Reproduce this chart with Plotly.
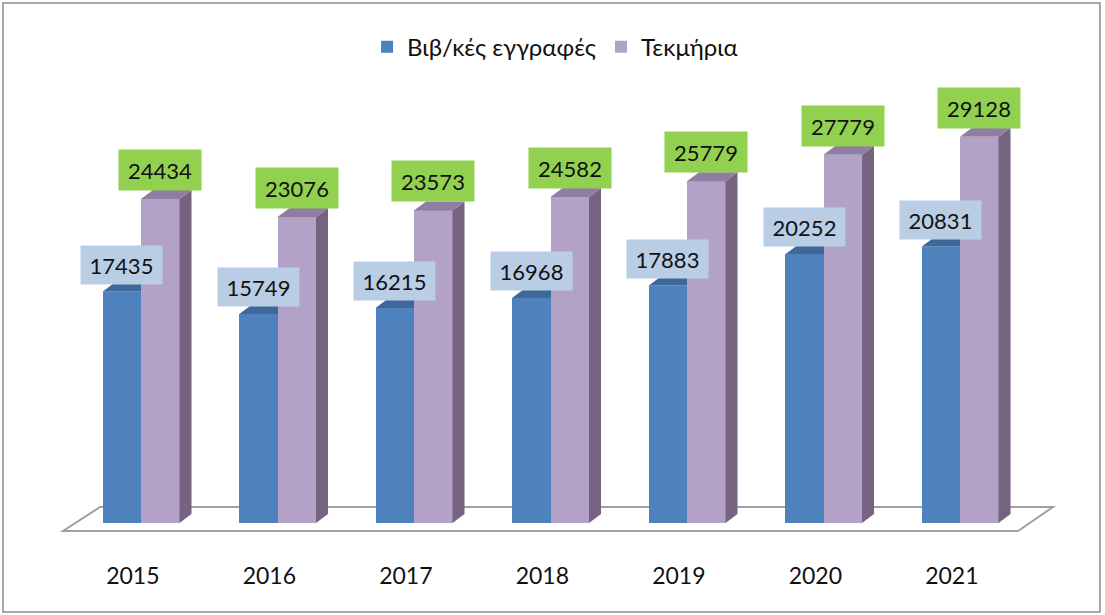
import plotly.graph_objects as go

years = ["2015", "2016", "2017", "2018", "2019", "2020", "2021"]
records = [17435, 15749, 16215, 16968, 17883, 20252, 20831]
items = [24434, 23076, 23573, 24582, 25779, 27779, 29128]
names = ["Βιβ/κές εγγραφές", "Τεκμήρια"]

BLUE, BLUE_TOP = "#4f81bd", "#3d6899"
PURP, PURP_TOP, PURP_SIDE = "#b3a2c7", "#8f7da2", "#76647f"
FONT = "Lato, 'Open Sans', sans-serif"

idx = list(range(len(years)))
W = 0.282          # bar width in category units
DX = 12 / 136.5    # depth offset (x, category units)
DY = 9 / 0.01326   # depth offset (y, value units)

fig = go.Figure()
fig.add_trace(go.Bar(x=idx, y=records, width=W, offset=-W, name=names[0],
                     marker=dict(color=BLUE, line=dict(width=0))))
fig.add_trace(go.Bar(x=idx, y=items, width=W, offset=0, name=names[1],
                     marker=dict(color=PURP, line=dict(width=0))))

shapes = []
# floor
fx0, fx1, bx0, bx1 = -0.571, 6.425, -0.300, 6.681
fy, by = -603, 1207
shapes.append(dict(type="path", xref="x", yref="y", layer="below",
                   path=f"M {fx0},{fy} L {fx1},{fy} L {bx1},{by} L {bx0},{by} Z",
                   fillcolor="white", line=dict(color="#a0a0a0", width=2)))

def poly(pts):
    return "M " + " L ".join(f"{x},{y}" for x, y in pts) + " Z"

for i, v in zip(idx, records):
    shapes.append(dict(type="path", xref="x", yref="y", layer="below",
                       path=poly([(i - W, v), (i - W + DX, v + DY), (i + DX, v + DY), (i, v)]),
                       fillcolor=BLUE_TOP, line=dict(width=0)))
for i, v in zip(idx, items):
    shapes.append(dict(type="path", xref="x", yref="y", layer="above",
                       path=poly([(i + W, 0), (i + W + DX, DY), (i + W + DX, v + DY), (i + W, v)]),
                       fillcolor=PURP_SIDE, line=dict(width=0)))
    shapes.append(dict(type="path", xref="x", yref="y", layer="above",
                       path=poly([(i, v), (i + DX, v + DY), (i + W + DX, v + DY), (i + W, v)]),
                       fillcolor=PURP_TOP, line=dict(width=0)))

# outer border
shapes.append(dict(type="rect", xref="paper", yref="paper",
                   x0=-0.0361, x1=1.0341, y0=-0.1385, y1=1.0327,
                   line=dict(color="#8c8c8c", width=1.5), fillcolor="rgba(0,0,0,0)"))

annotations = []
for i, v in zip(idx, records):
    annotations.append(dict(x=i - W / 2, y=v, xref="x", yref="y", yshift=27,
                            text=str(v), showarrow=False, bgcolor="#b9cde5",
                            width=77, height=34, borderpad=2,
                            font=dict(family=FONT, size=22, color="#111111")))
for i, v in zip(idx, items):
    annotations.append(dict(x=i + W / 2, y=v, xref="x", yref="y", yshift=29,
                            text=str(v), showarrow=False, bgcolor="#92d050",
                            width=78, height=36, borderpad=2,
                            font=dict(family=FONT, size=22, color="#111111")))

fig.update_layout(
    width=1105, height=615,
    margin=dict(l=40, r=40, t=20, b=75),
    paper_bgcolor="white", plot_bgcolor="white",
    barmode="overlay", bargap=0,
    shapes=shapes, annotations=annotations,
    showlegend=True,
    legend=dict(orientation="h", x=0.503, xanchor="center", y=0.948, yanchor="middle",
                font=dict(family=FONT, size=24, color="#111111"),
                itemwidth=30, traceorder="normal", bgcolor="rgba(0,0,0,0)"),
    font=dict(family=FONT),
)
fig.update_xaxes(range=[-0.74, 6.769], tickvals=[i - 0.06 for i in idx], ticktext=years,
                 showgrid=False, zeroline=False, showline=False,
                 ticks="outside", ticklen=15, tickcolor="rgba(0,0,0,0)",
                 tickfont=dict(family=FONT, size=23, color="#111111"))
fig.update_yaxes(range=[-1282, 37934], visible=False, showgrid=False, zeroline=False)

fig.write_html("out.html", config={"displayModeBar": False},
               post_script="document.body.style.margin='0px';")
